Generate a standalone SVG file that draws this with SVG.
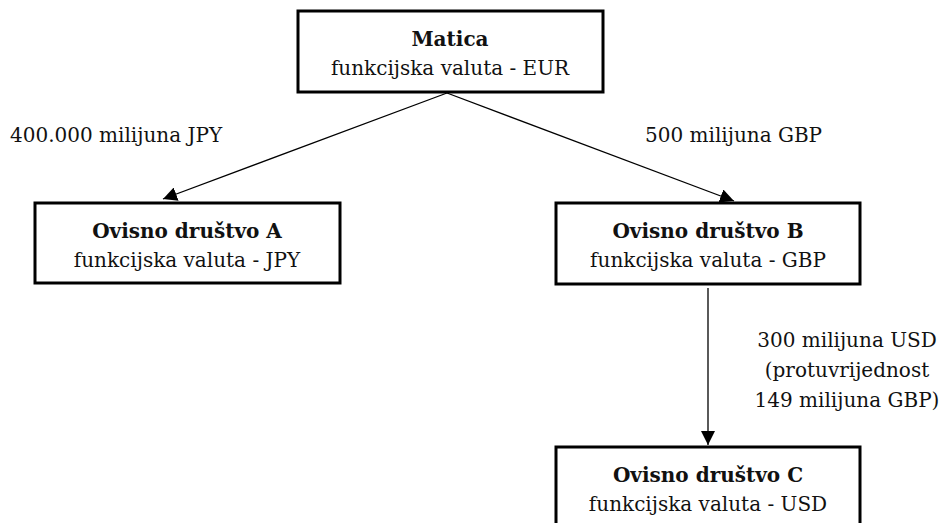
<svg xmlns="http://www.w3.org/2000/svg" width="948" height="523" viewBox="0 0 948 523">
<defs>
<style>
.box{fill:#fff;stroke:#000;stroke-width:3}
.t{font-family:"DejaVu Serif","Liberation Serif",serif;font-size:20px;fill:#111;text-anchor:middle}
.b{font-weight:bold}
.lbl{font-family:"DejaVu Serif","Liberation Serif",serif;font-size:20px;fill:#111}
.c{stroke:#000;stroke-width:1.3;fill:none;marker-end:url(#ah)}
</style>
<marker id="ah" viewBox="0 0 10 10" refX="10" refY="5" markerWidth="14" markerHeight="14" markerUnits="userSpaceOnUse" orient="auto">
<path d="M0,0 L10,5 L0,10 z" fill="#000"/>
</marker>
</defs>
<rect width="948" height="523" fill="#fff"/>
<g id="connectors">
<line class="c" x1="447" y1="93" x2="163" y2="199"/>
<line class="c" x1="447" y1="93" x2="734" y2="201"/>
<line class="c" x1="708" y1="288" x2="708" y2="445"/>
</g>
<g id="edge-labels">
<text class="lbl" x="10" y="142">400.000 milijuna JPY</text>
<text class="lbl" x="645" y="142">500 milijuna GBP</text>
<text class="t" x="847" y="347">300 milijuna USD</text>
<text class="t" x="847" y="377">(protuvrijednost</text>
<text class="t" x="847" y="407">149 milijuna GBP)</text>
</g>
<g id="matica">
<rect class="box" x="298" y="11" width="305" height="81"/>
<text class="t b" x="450" y="46">Matica</text>
<text class="t" x="450" y="75">funkcijska valuta - EUR</text>
</g>
<g id="drustvo-a">
<rect class="box" x="35" y="203" width="305" height="80"/>
<text class="t b" x="187" y="238">Ovisno društvo A</text>
<text class="t" x="187" y="267">funkcijska valuta - JPY</text>
</g>
<g id="drustvo-b">
<rect class="box" x="556" y="203" width="304" height="81"/>
<text class="t b" x="708" y="238">Ovisno društvo B</text>
<text class="t" x="708" y="267">funkcijska valuta - GBP</text>
</g>
<g id="drustvo-c">
<rect class="box" x="556" y="447" width="304" height="81"/>
<text class="t b" x="708" y="482">Ovisno društvo C</text>
<text class="t" x="708" y="511">funkcijska valuta - USD</text>
</g>
</svg>
